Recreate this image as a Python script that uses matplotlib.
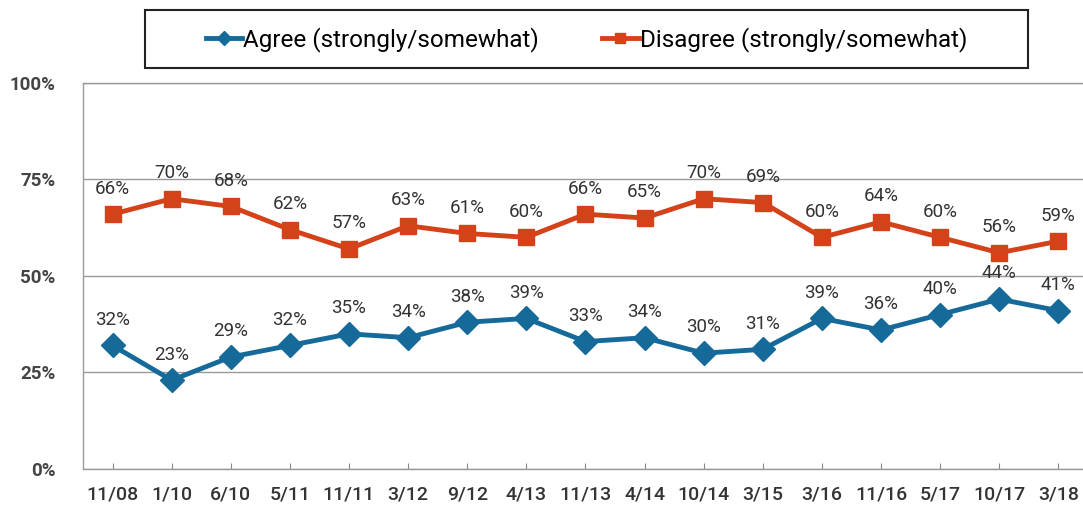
import matplotlib.pyplot as plt
from matplotlib.patches import Rectangle
from matplotlib.lines import Line2D
import numpy as np

plt.rcParams['font.family'] = ['Roboto', 'DejaVu Sans']

dates = ["11/08", "1/10", "6/10", "5/11", "11/11", "3/12", "9/12", "4/13", "11/13",
         "4/14", "10/14", "3/15", "3/16", "11/16", "5/17", "10/17", "3/18"]
agree = [32, 23, 29, 32, 35, 34, 38, 39, 33, 34, 30, 31, 39, 36, 40, 44, 41]
disagree = [66, 70, 68, 62, 57, 63, 61, 60, 66, 65, 70, 69, 60, 64, 60, 56, 59]

blue = "#156a9a"
red = "#d4421a"
x = np.arange(len(dates))

fig = plt.figure(figsize=(10.83, 5.08), dpi=100)
ax = fig.add_axes([0.0766, 0.0768, 0.928, 0.760])

ax.plot(x, agree, color=blue, lw=3.5, marker="D", ms=12)
ax.plot(x, disagree, color=red, lw=3.5, marker="s", ms=12)

for xi, v in zip(x, agree):
    ax.annotate(f"{v}%", (xi, v), xytext=(0, 12), textcoords="offset points",
                ha="center", va="bottom", fontsize=13.5, color="#333333")
for xi, v in zip(x, disagree):
    ax.annotate(f"{v}%", (xi, v), xytext=(0, 12), textcoords="offset points",
                ha="center", va="bottom", fontsize=13.5, color="#333333")

ax.set_xlim(-0.5, len(dates) - 0.5)
ax.set_ylim(0, 100)
ax.set_yticks([0, 25, 50, 75, 100])
ax.set_yticklabels(["0%", "25%", "50%", "75%", "100%"], fontweight="bold")
ax.set_xticks(x)
ax.set_xticklabels(dates, fontweight="medium")
ax.tick_params(axis="y", length=0, pad=20, labelsize=13.5, labelcolor="#444444")
ax.tick_params(axis="x", direction="in", length=4, color="#888888", pad=12,
               labelsize=14, labelcolor="#333333")
ax.grid(axis="y", color="#999999", lw=1)
ax.set_axisbelow(True)
for s in ["left", "bottom", "top"]:
    ax.spines[s].set_color("#999999")
    ax.spines[s].set_linewidth(1)
ax.spines["right"].set_visible(False)

# legend frame drawn separately, entries centred inside it
fig.patches.append(Rectangle((0.134, 0.866), 0.815, 0.114, transform=fig.transFigure,
                             fill=False, edgecolor="#222222", lw=1.5))
handles = [Line2D([], [], color=blue, lw=3.5, marker="D", ms=7),
           Line2D([], [], color=red, lw=3.5, marker="s", ms=7)]
labels = ["Agree (strongly/somewhat)", "Disagree (strongly/somewhat)"]
fig.legend(handles, labels, loc="center", bbox_to_anchor=(0.5415, 0.923),
           ncol=2, fontsize=17.5, frameon=False,
           handlelength=1.5, handletextpad=0.05, columnspacing=2.6)

fig.savefig("out.png", dpi=100)
